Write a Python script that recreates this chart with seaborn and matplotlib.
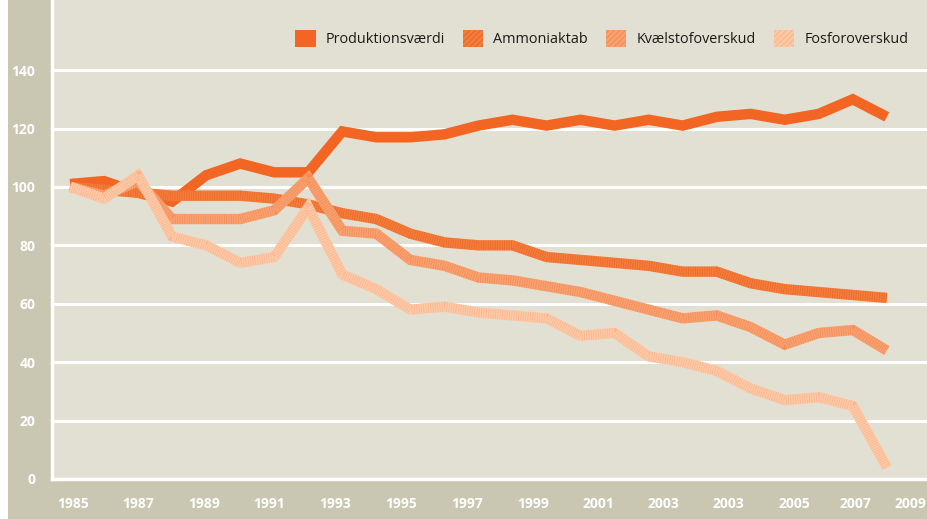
import matplotlib
matplotlib.use("Agg")
import matplotlib.pyplot as plt
from matplotlib.patches import Patch, Rectangle
import pandas as pd
import seaborn as sns

# Data (index, 1985 = 100)
years = list(range(1985, 2010))
produktion = [101, 102, 98, 95, 104, 108, 105, 105, 119, 117, 117, 118, 121, 123, 121,
              123, 121, 123, 121, 124, 125, 123, 125, 130, 124]
ammoniak = [100, 99, 98, 97, 97, 97, 96, 94, 91, 89, 84, 81, 80, 80, 76,
            75, 74, 73, 71, 71, 67, 65, 64, 63, 62]
kvaelstof = [100, 97, 102, 89, 89, 89, 92, 103, 85, 84, 75, 73, 69, 68, 66,
             64, 61, 58, 55, 56, 52, 46, 50, 51, 44]
fosfor = [100, 96, 104, 83, 80, 74, 76, 93, 70, 65, 58, 59, 57, 56, 55,
          49, 50, 42, 40, 37, 31, 27, 28, 25, 4]

series_names = ["Produktionsværdi", "Ammoniaktab", "Kvælstofoverskud", "Fosforoverskud"]
series_values = [produktion, ammoniak, kvaelstof, fosfor]

# Tick labels as printed on the original (note the repeated 2003)
xtick_labels = ["1985", "1987", "1989", "1991", "1993", "1995", "1997", "1999",
                "2001", "2003", "2003", "2005", "2007", "2009"]
ytick_values = [0, 20, 40, 60, 80, 100, 120, 140]

# Layout / style
xtick_pos = [1985.09, 1987.0, 1988.94, 1990.85, 1992.79, 1994.73, 1996.67, 1998.61,
             2000.52, 2002.43, 2004.34, 2006.28, 2008.07, 2009.68]
base_colors = ["#f26522", "#f57d3c", "#f9a171", "#fdcaa8"]
stripe_colors = [None, "#ec6a28", "#f48e58", "#fab68f"]
bg = "#e2e0d3"
strip = "#c9c6b2"

df = pd.DataFrame({"year": years * 4,
                   "value": sum(series_values, []),
                   "series": [n for n in series_names for _ in years]})

sns.set_theme(style="white")
plt.rcParams["font.family"] = ["Open Sans", "DejaVu Sans"]
plt.rcParams["hatch.linewidth"] = 1.0

fig = plt.figure(figsize=(9.27, 5.19), dpi=100, facecolor=strip)
# white margin at the far left
fig.patches.append(Rectangle((0, 0), 8 / 927, 1, transform=fig.transFigure,
                             facecolor="white", edgecolor="none", zorder=-10))
ax = fig.add_axes([52 / 927, 40 / 519, 1 - 52 / 927, 1 - 40 / 519])
ax.set_facecolor(bg)

# Draw each series: a thick base line plus a fine dashed overlay to mimic the hatching
for i, name in enumerate(series_names):
    sub = df[df["series"] == name]
    sns.lineplot(data=sub, x="year", y="value", ax=ax, color=base_colors[i],
                 linewidth=7.5, solid_capstyle="butt", solid_joinstyle="miter",
                 zorder=3 + i, legend=False)
    if stripe_colors[i] is not None:
        ax.plot(sub["year"], sub["value"], color=stripe_colors[i], linewidth=7.0,
                dashes=(0.08, 0.16), dash_capstyle="butt", zorder=3 + i + 0.5)

ax.set_xlim(1984.47, 2010.18)
ax.set_ylim(0, 164)
ax.set_yticks(ytick_values)
ax.set_xticks(xtick_pos)
ax.set_xticklabels(xtick_labels)
ax.set_xlabel("")
ax.set_ylabel("")

ax.grid(axis="y", color="white", linewidth=2.2, zorder=1)
ax.set_axisbelow(True)
for side in ["top", "right"]:
    ax.spines[side].set_visible(False)
for side in ["left", "bottom"]:
    ax.spines[side].set_color("white")
    ax.spines[side].set_linewidth(2.5)

ax.tick_params(axis="both", length=0, labelcolor="white", labelsize=10)
ax.tick_params(axis="y", pad=12)
ax.tick_params(axis="x", pad=13)
for lab in ax.get_xticklabels() + ax.get_yticklabels():
    lab.set_fontweight("bold")

# Legend with hatched patches
handles = []
for i, name in enumerate(series_names):
    if stripe_colors[i] is None:
        handles.append(Patch(facecolor=base_colors[i], edgecolor="none", label=name))
    else:
        handles.append(Patch(facecolor=base_colors[i], edgecolor=stripe_colors[i],
                             hatch="//////", linewidth=0, label=name))
ax.legend(handles=handles, loc="upper right", ncol=4, frameon=False,
          bbox_to_anchor=(0.99, 0.958), fontsize=10.4, handlelength=1.4,
          handleheight=1.4, handletextpad=0.7, columnspacing=1.25,
          borderaxespad=0.3, labelcolor="#1a1a1a")

fig.savefig("out.png", dpi=100, facecolor=fig.get_facecolor())
